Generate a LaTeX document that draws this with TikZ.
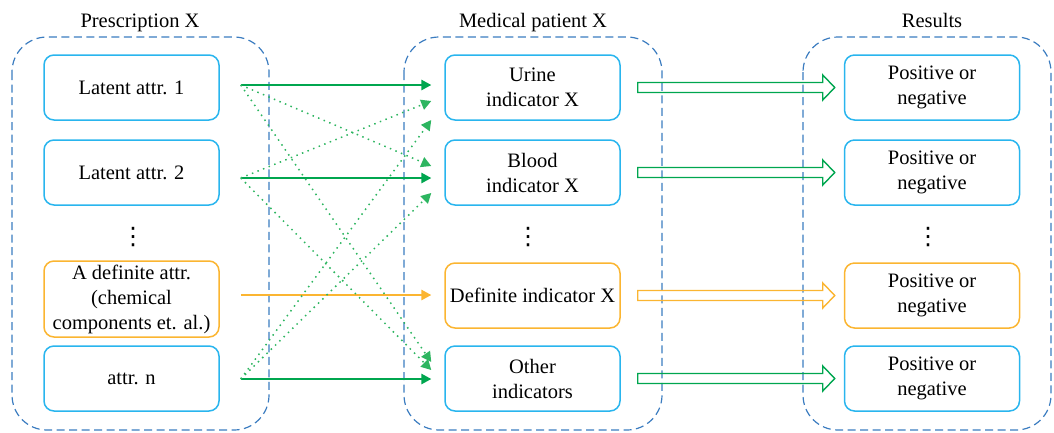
\documentclass[tikz,border=0pt]{standalone}
\usepackage{fontspec}
\setmainfont{Liberation Serif}
\newfontfamily\dejavu{DejaVu Sans}
\usetikzlibrary{arrows.meta,calc}
\definecolor{boxblue}{HTML}{29B5EE}
\definecolor{boxorange}{HTML}{FBB531}
\definecolor{arrgreen}{HTML}{00A64F}
\definecolor{dotgreen}{HTML}{2DB560}
\definecolor{dashblue}{HTML}{3B7CC0}
\newcommand{\hollowarr}[3]{%
  \draw[#3] ($(#1)+(0,-5)$) -- ($(#2)+(-12,-5)$) -- ($(#2)+(-12,-12.5)$) -- (#2)
    -- ($(#2)+(-12,12.5)$) -- ($(#2)+(-12,5)$) -- ($(#1)+(0,5)$) -- cycle;}
\tikzset{
  container/.style={draw=dashblue, line width=1.2pt, dash pattern=on 8pt off 4.5pt, rounded corners=35pt},
  bbox/.style={draw=boxblue, line width=1.5pt, rounded corners=10pt, minimum width=175pt,
    minimum height=65pt, align=center, font=\fontsize{20.5}{25}\selectfont, inner sep=0pt},
  obox/.style={bbox, draw=boxorange},
  title/.style={font=\fontsize{20.5}{25}\selectfont, anchor=base},
  vdot/.style={font=\dejavu\fontsize{24}{24}\selectfont, inner sep=0pt},
  solidarr/.style={draw=arrgreen, line width=1.5pt, -{Triangle[length=10pt,width=10.5pt]}},
  orangearr/.style={draw=boxorange, line width=1.5pt, -{Triangle[length=10pt,width=10.5pt]}},
  dotarr/.style={draw=dotgreen, line width=1.5pt, dash pattern=on 1.5pt off 4.5pt,
    -{Triangle[length=10pt,width=10.5pt]}},
  hgreen/.style={draw=arrgreen, line width=1.4pt, line join=miter},
  horange/.style={draw=boxorange, line width=1.4pt, line join=miter},
}
\begin{document}
\begin{tikzpicture}[x=1pt,y=-1pt]
\useasboundingbox (0,0) rectangle (1054,432);
% containers
\draw[container] (12,37) rectangle (269,430);
\draw[container] (404,37) rectangle (662,430);
\draw[container] (803,37) rectangle (1051,430);
% titles
\node[title] (t1) at (140,27) {Prescription X};
\node[title] (t2) at (533,27) {Medical patient X};
\node[title] (t3) at (932,27) {Results};
% left boxes
\node[bbox] (lat1) at (131.5,87.5) {Latent attr. 1};
\node[bbox] (lat2) at (131.5,172.5) {Latent attr. 2};
\node[obox, minimum height=76pt] (ldef) at (131.5,299) {A definite attr.\\(chemical\\components et. al.)};
\node[bbox] (attrn) at (131.5,378.5) {attr. n};
% middle boxes
\node[bbox] (urine) at (532.5,87.5) {Urine\\indicator X};
\node[bbox] (blood) at (532.5,172.5) {Blood\\indicator X};
\node[obox] (mdef) at (532.5,295.5) {Definite indicator X};
\node[bbox] (other) at (532.5,378.5) {Other\\indicators};
% right boxes
\node[bbox] (r1) at (932,87.5) {Positive or\\negative};
\node[bbox] (r2) at (932,172.5) {Positive or\\negative};
\node[obox] (r3) at (932,295.5) {Positive or\\negative};
\node[bbox] (r4) at (932,378.5) {Positive or\\negative};
% vertical dots
\node[vdot] (d1) at (133,237) {⋮};
\node[vdot] (d2) at (528,237) {⋮};
\node[vdot] (d3) at (928,237) {⋮};
% connector end points
\coordinate (s1) at ($(lat1.east)+(21,-2.5)$);
\coordinate (s2) at ($(lat2.east)+(21,5.5)$);
\coordinate (s3) at ($(ldef.east)+(21,-4)$);
\coordinate (s4) at ($(attrn.east)+(21,0.5)$);
\coordinate (u1) at ($(urine.west)+(-13,-2.5)$);
\coordinate (u2) at ($(urine.west)+(-13,13.5)$);
\coordinate (u3) at ($(urine.west)+(-13,32.5)$);
\coordinate (b1) at ($(blood.west)+(-13,-6.5)$);
\coordinate (b2) at ($(blood.west)+(-13,5.5)$);
\coordinate (b3) at ($(blood.west)+(-13,20.5)$);
\coordinate (m1) at ($(mdef.west)+(-13,-0.5)$);
\coordinate (o1) at ($(other.west)+(-13,-16.5)$);
\coordinate (o2) at ($(other.west)+(-13,-8.5)$);
\coordinate (o3) at ($(other.west)+(-13,0.5)$);
% solid arrows
\draw[solidarr] (s1) -- (u1);
\draw[solidarr] (s2) -- (b2);
\draw[orangearr] (s3) -- (m1);
\draw[solidarr] (s4) -- (o3);
% dotted arrows
\draw[dotarr] (s1) -- (b1);
\draw[dotarr] (s1) -- (o1);
\draw[dotarr] (s2) -- (u2);
\draw[dotarr] (s2) -- (o2);
\draw[dotarr] (s4) -- (u3);
\draw[dotarr] (s4) -- (b3);
% hollow arrows
\coordinate (h1a) at ($(urine.east)+(17,0)$);
\coordinate (h1b) at ($(r1.west)+(-9,0)$);
\coordinate (h2a) at ($(blood.east)+(17,0)$);
\coordinate (h2b) at ($(r2.west)+(-9,0)$);
\coordinate (h3a) at ($(mdef.east)+(17,0)$);
\coordinate (h3b) at ($(r3.west)+(-9,0)$);
\coordinate (h4a) at ($(other.east)+(17,0)$);
\coordinate (h4b) at ($(r4.west)+(-9,0)$);
\hollowarr{h1a}{h1b}{hgreen}
\hollowarr{h2a}{h2b}{hgreen}
\hollowarr{h3a}{h3b}{horange}
\hollowarr{h4a}{h4b}{hgreen}
\end{tikzpicture}
\end{document}
